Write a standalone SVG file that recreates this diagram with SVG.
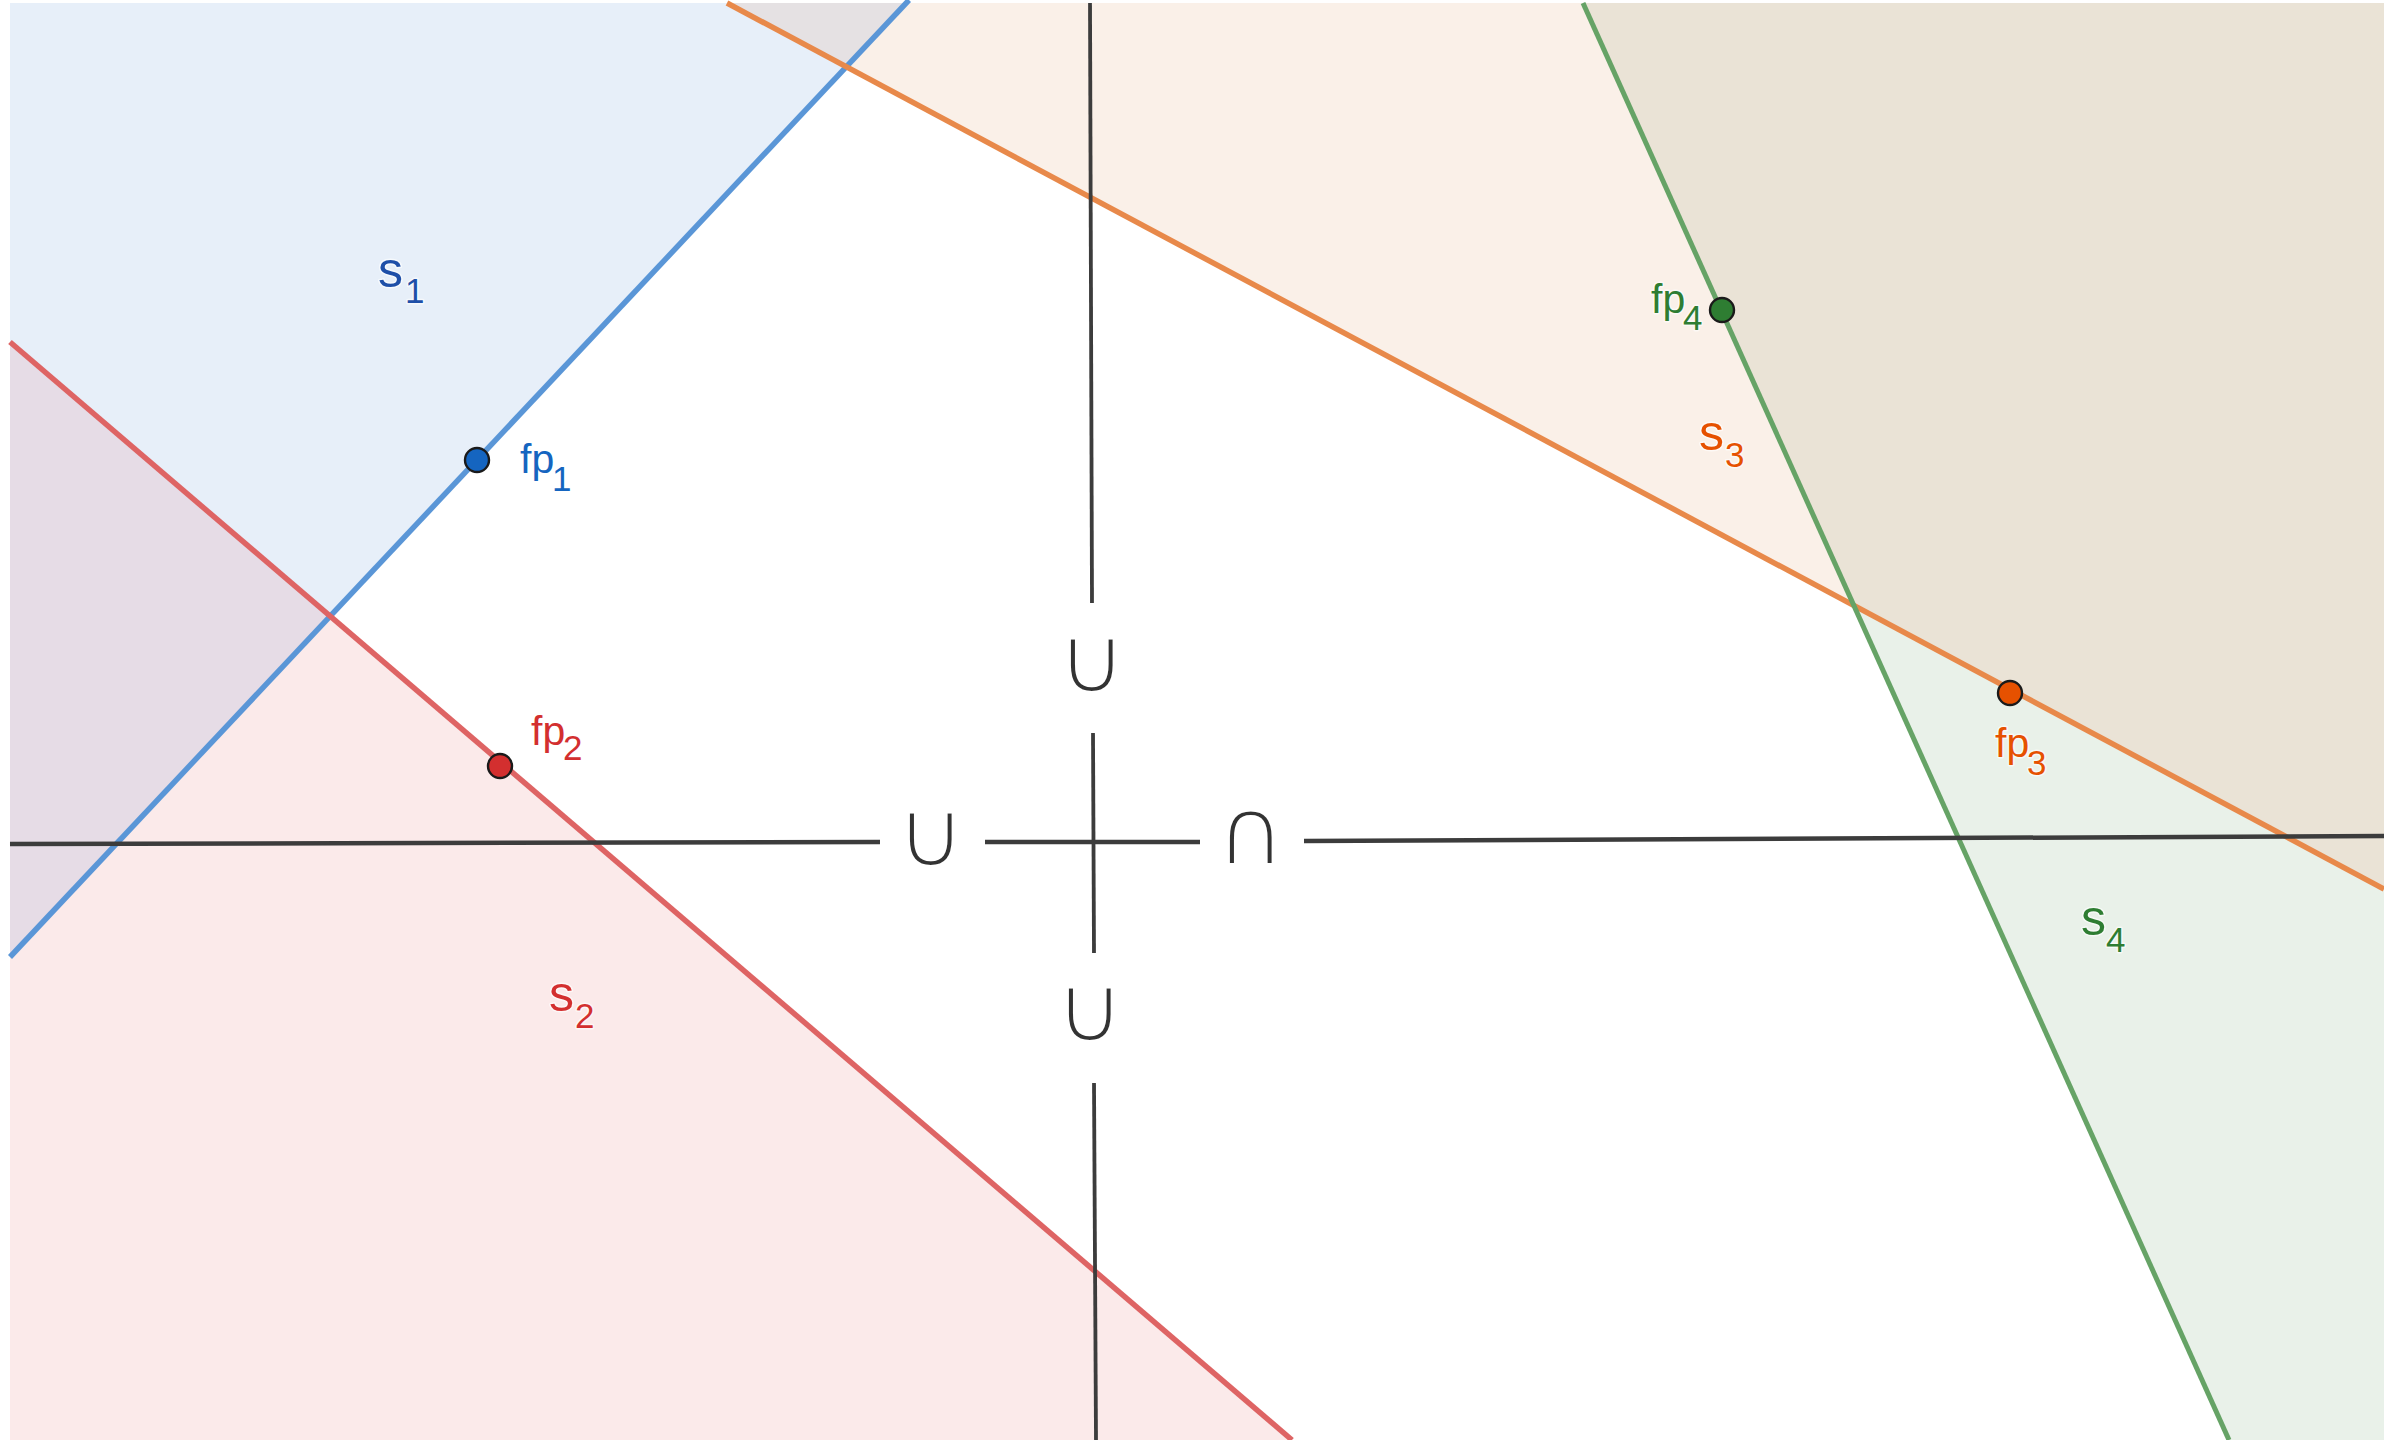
<svg xmlns="http://www.w3.org/2000/svg" width="2384" height="1440" viewBox="0 0 2384 1440">
<style>
.lbl{font-family:"Liberation Sans",Arial,sans-serif;paint-order:stroke;stroke:#ffffff;stroke-opacity:0.6;stroke-width:3;stroke-linejoin:round}
.main{font-size:50px}
.fp{font-size:41px}
.sub{font-size:35px}
.blue{fill:#1565C0}.red{fill:#D32F2F}.orange{fill:#E65100}.green{fill:#2E7D32}
.sblue{fill:#1E4FA8}
.pt{stroke:#1a1a1a;stroke-width:2.4}
.ax{stroke:#3c3c3c;fill:none;stroke-linecap:butt}
.op{font-family:"DejaVu Sans",sans-serif;font-size:96px;fill:#333333;stroke:#ffffff;stroke-width:4;text-anchor:middle}
</style>
<rect x="0" y="0" width="2384" height="1440" fill="#ffffff"/>
<g id="regions">
<polygon id="S1-fill" points="10,3 906,3 10,957" fill="#E7EFF9"/>
<polygon id="S2-fill" points="10,342 1292,1440 10,1440" fill="#FBEAEA"/>
<polygon id="S3-fill" points="727,3 2384,889 2384,3" fill="#FAF0E8"/>
<polygon id="S4-fill" points="1583,3 2229,1440 2384,1440 2384,3" fill="#E9F1E9"/>
<polygon id="S1S2" points="10,342 330,616 10,957" fill="#E6DCE6"/>
<polygon id="S1S3" points="727,3 906,3 846,67" fill="#E5E1E3"/>
<polygon id="S3S4" points="1583,3 1854,605 2384,889 2384,3" fill="#EAE3D6"/>
</g>
<g id="connectors">
<line x1="909" y1="0" x2="10" y2="957" stroke="#5A96D7" stroke-width="5.5"/>
<line x1="10" y1="342" x2="1292" y2="1440" stroke="#DE6464" stroke-width="5.5"/>
<line x1="727" y1="3" x2="2384" y2="889" stroke="#E8894A" stroke-width="5.5"/>
<line x1="1583" y1="3" x2="2229" y2="1440" stroke="#66A366" stroke-width="5"/>
<line class="ax" x1="1090" y1="3" x2="1092" y2="603" stroke-width="3.8"/>
<line class="ax" x1="1093" y1="733" x2="1094" y2="953" stroke-width="3.8"/>
<line class="ax" x1="1094" y1="1083" x2="1096" y2="1440" stroke-width="3.8"/>
<line class="ax" x1="10" y1="844" x2="880" y2="842" stroke-width="4.5"/>
<line class="ax" x1="985" y1="842" x2="1200" y2="842" stroke-width="4.5"/>
<line class="ax" x1="1304" y1="841" x2="2384" y2="836" stroke-width="4.5"/>
</g>
<g id="operators">
<text id="op-left" class="op" x="931" y="867">∪</text>
<text id="op-top" class="op" x="1092" y="693">∪</text>
<text id="op-bottom" class="op" x="1090" y="1042">∪</text>
<text id="op-right" class="op" x="1251" y="865">∩</text>
</g>
<g id="s1"><text class="lbl sblue"><tspan class="main" x="378" y="287">s</tspan><tspan class="sub" x="405" y="303">1</tspan></text></g>
<g id="s2"><text class="lbl red"><tspan class="main" x="549" y="1011">s</tspan><tspan class="sub" x="575" y="1028">2</tspan></text></g>
<g id="s3"><text class="lbl orange"><tspan class="main" x="1699" y="450">s</tspan><tspan class="sub" x="1725" y="467">3</tspan></text></g>
<g id="s4"><text class="lbl green"><tspan class="main" x="2081" y="935">s</tspan><tspan class="sub" x="2106" y="952">4</tspan></text></g>
<g id="fp1"><circle class="pt blue" cx="477" cy="460" r="12"/><text class="lbl blue"><tspan class="fp" x="520" y="473">fp</tspan><tspan class="sub" x="552" y="491">1</tspan></text></g>
<g id="fp2"><circle class="pt red" cx="500" cy="766" r="12"/><text class="lbl red"><tspan class="fp" x="531" y="745">fp</tspan><tspan class="sub" x="563" y="760">2</tspan></text></g>
<g id="fp3"><circle class="pt orange" cx="2010" cy="693" r="12"/><text class="lbl orange"><tspan class="fp" x="1995" y="757">fp</tspan><tspan class="sub" x="2027" y="775">3</tspan></text></g>
<g id="fp4"><circle class="pt green" cx="1722" cy="310" r="12"/><text class="lbl green"><tspan class="fp" x="1651" y="313">fp</tspan><tspan class="sub" x="1683" y="330">4</tspan></text></g>
</svg>
